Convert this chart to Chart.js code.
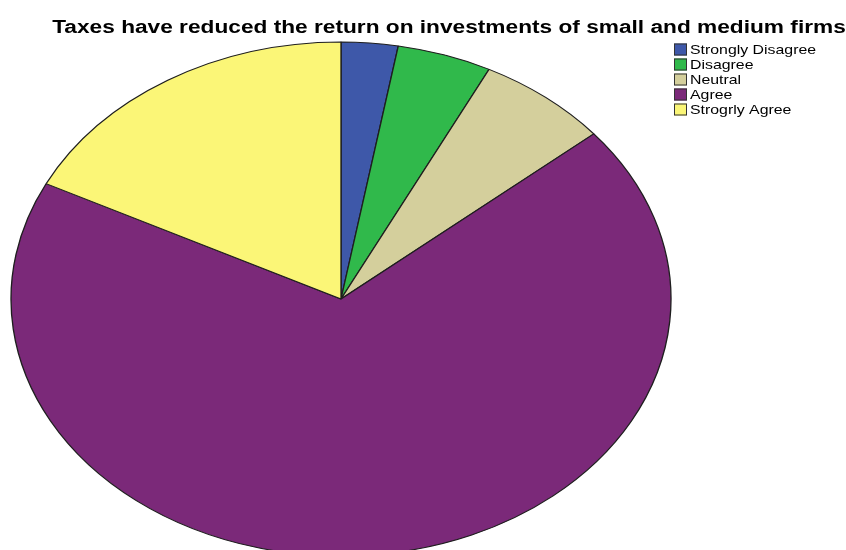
<!DOCTYPE html>
<html>
<head>
<meta charset="utf-8">
<script src="https://cdn.jsdelivr.net/npm/chart.js@4.4.0/dist/chart.umd.min.js"></script>
<style>
  html, body { margin: 0; padding: 0; background: #fff; }
  #wrap { width: 846px; height: 550px; position: relative; }
</style>
</head>
<body>
<div id="wrap"><canvas id="pieChart"></canvas></div>
<script>
const chartTitle = "Taxes have reduced the return on investments of small and medium firms";
const answers = ["Strongly Disagree", "Disagree", "Neutral", "Agree", "Strogrly Agree"];
const responses = [3, 5, 7, 74, 19];
const sliceColors = ["#3e58a9", "#30b94b", "#d4cf9c", "#7b2979", "#fbf677"];

// whole figure is widened a bit: pie becomes an ellipse, text gets wider
const pieRadiusX = 330;
const pieRadiusY = 257;
const titleStretch = 1.26;
const keyStretch = 1.22;

const widenPie = {
  id: "widenPie",
  beforeDatasetsDraw(chart) {
    const arc = chart.getDatasetMeta(0).data[0];
    const r = arc.outerRadius;
    const ctx = chart.ctx;
    ctx.save();
    ctx.translate(arc.x, arc.y);
    ctx.scale(pieRadiusX / r, pieRadiusY / r);
    ctx.translate(-arc.x, -arc.y);
  },
  afterDatasetsDraw(chart) {
    chart.ctx.restore();
  }
};

function wideText(ctx, text, x, y, sx) {
  ctx.save();
  ctx.translate(x, y);
  ctx.scale(sx, 1);
  ctx.fillText(text, 0, 0);
  ctx.restore();
}

// title and key drawn by hand so they sit where they should
const titleAndKey = {
  id: "titleAndKey",
  afterDraw(chart) {
    const ctx = chart.ctx;
    ctx.save();
    ctx.fillStyle = "#000";
    ctx.font = 'bold 18px "Liberation Sans", Arial, sans-serif';
    ctx.textAlign = "center";
    ctx.textBaseline = "alphabetic";
    wideText(ctx, chartTitle, 449, 33, titleStretch);

    ctx.font = '13px "Liberation Sans", Arial, sans-serif';
    ctx.textAlign = "left";
    ctx.textBaseline = "middle";
    chart.data.labels.forEach((label, i) => {
      const y = 49.5 + i * 15;
      ctx.fillStyle = sliceColors[i];
      ctx.fillRect(674, y - 6, 13, 12);
      ctx.strokeStyle = "#333";
      ctx.lineWidth = 1;
      ctx.strokeRect(674.5, y - 5.5, 12, 11);
      ctx.fillStyle = "#000";
      wideText(ctx, label, 690, y + 1, keyStretch);
    });
    ctx.restore();
  }
};

const config = {
  type: "pie",
  data: {
    labels: answers,
    datasets: [{
      data: responses,
      backgroundColor: sliceColors,
      borderColor: "#1e1e1e",
      borderWidth: 1,
      hoverOffset: 0
    }]
  },
  options: {
    responsive: false,
    animation: false,
    events: [],
    layout: {
      padding: { left: 0, right: 164, top: 48, bottom: 0 }
    },
    plugins: {
      legend: { display: false },
      title: { display: false },
      tooltip: { enabled: false }
    }
  },
  plugins: [widenPie, titleAndKey]
};

const canvas = document.getElementById("pieChart");
canvas.width = 846;
canvas.height = 550;
new Chart(canvas, config);
</script>
</body>
</html>
